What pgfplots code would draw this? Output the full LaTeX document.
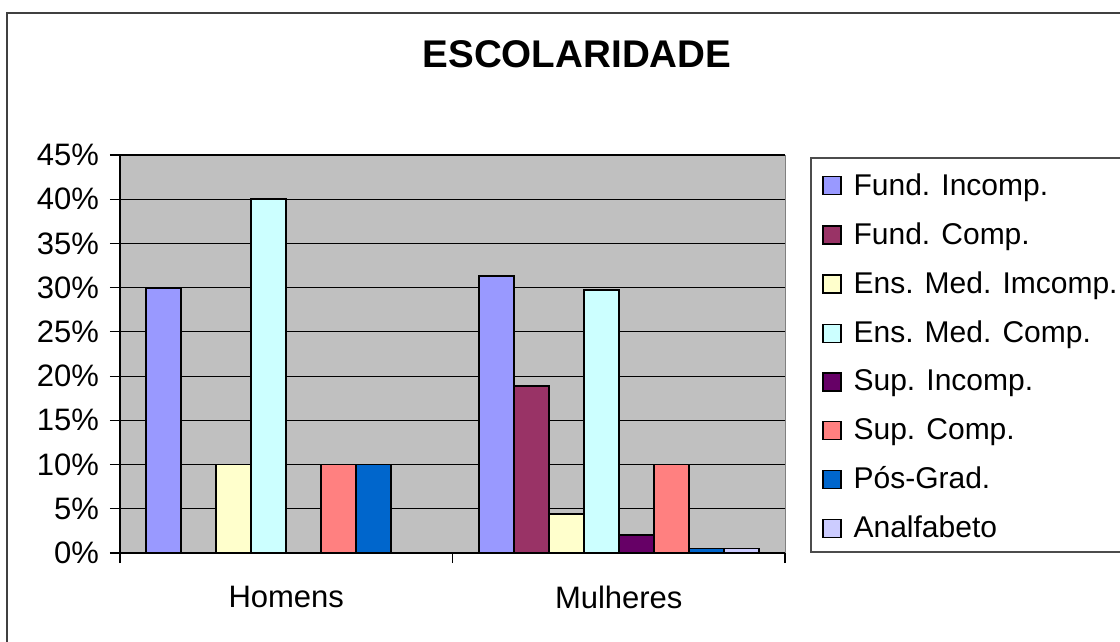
\documentclass[border=0pt]{standalone}
\usepackage{fontspec}
\setmainfont{Liberation Sans}
\usepackage{pgfplots}
\pgfplotsset{compat=1.18}
\definecolor{c1}{HTML}{9999FF}
\definecolor{c2}{HTML}{993366}
\definecolor{c3}{HTML}{FFFFCC}
\definecolor{c4}{HTML}{CCFFFF}
\definecolor{c5}{HTML}{660066}
\definecolor{c6}{HTML}{FF8080}
\definecolor{c7}{HTML}{0066CC}
\definecolor{c8}{HTML}{CCCCFF}
\definecolor{plotbg}{HTML}{C0C0C0}
\pgfplotsset{
    barstyle/.style = {draw = black, line width = 0.9pt},
}

\begin{document}
\begin{tikzpicture}
\useasboundingbox (0,0) rectangle (560pt,-321pt);
\clip (0,0) rectangle (560pt,-321pt);
% outer chart frame and legend box
\draw[line width = 0.9pt, black!75] (3.5pt,-6.5pt) rectangle (600pt,-360pt);
\draw[line width = 0.7pt, black!70] (405.5pt,-79pt) rectangle (600pt,-276pt);
\node[anchor = base, font = \fontsize{19.3}{23}\selectfont\bfseries] at (288.5pt,-34pt) {ESCOLARIDADE};
\begin{axis}[
    at = {(60pt,-276.5pt)}, anchor = south west,
    scale only axis, width = 332.5pt, height = 199pt,
    ybar = 0pt, bar width = 17.5pt,
    xmin = -0.5, xmax = 1.5, ymin = 0, ymax = 45,
    axis lines* = left,
    axis line style = {-, black, line width = 0.8pt},
    axis background/.style = {fill = plotbg, draw = gray},
    tick align = outside, major tick length = 5pt,
    tick style = {black, line width = 0.6pt},
    ytick = {0,5,...,45},
    yticklabel = {\pgfmathparse{int(round(\tick))}\pgfmathresult\%},
    yticklabel style = {xshift = -2pt},
    xtick = {-0.5,0.5,1.5}, xticklabels = {,,},
    extra x ticks = {0,1},
    extra x tick labels = {Homens,Mulheres},
    extra x tick style = {major tick length = 0pt,
        xticklabel style = {anchor = north, yshift = -13pt}},
    ymajorgrids, major grid style = {black, line width = 0.6pt},
    tick label style = {font = \fontsize{15.5}{18}\selectfont},
    legend style = {at = {(1,1)}, anchor = north west, xshift = 13pt, yshift = -1pt,
        draw = none, fill = none, inner xsep = 5.5pt, inner ysep = 6pt,
        row sep = 8.2pt, column sep = 4pt, font = \fontsize{15}{18}\selectfont},
    legend cell align = left,
    legend image code/.code = {\draw[#1, line width = 0.6pt] (0pt,-4.5pt) rectangle (9pt,4.5pt);},
]
\addplot[barstyle, fill = c1] coordinates {(0,30) (1,31.3)};
\addplot[barstyle, fill = c2] coordinates {(1,18.9)};
\addplot[barstyle, fill = c3] coordinates {(0,10) (1,4.4)};
\addplot[barstyle, fill = c4] coordinates {(0,40) (1,29.7)};
\addplot[barstyle, fill = c5] coordinates {(1,2.0)};
\addplot[barstyle, fill = c6] coordinates {(0,10) (1,10)};
\addplot[barstyle, fill = c7] coordinates {(0,10) (1,0.5)};
\addplot[barstyle, fill = c8] coordinates {(1,0.5)};
\legend{Fund. Incomp., Fund. Comp., Ens. Med. Imcomp., Ens. Med. Comp., Sup. Incomp., Sup. Comp., Pós-Grad., Analfabeto}
\end{axis}
\end{tikzpicture}
\end{document}
